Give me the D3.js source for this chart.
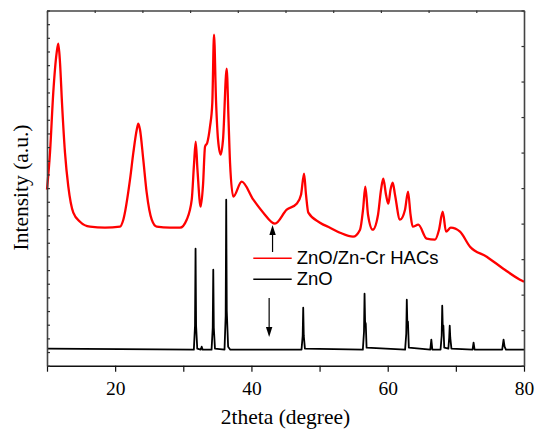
<!DOCTYPE html>
<html>
<head>
<meta charset="utf-8">
<script src="https://cdn.jsdelivr.net/npm/d3@7"></script>
<style>
  body { margin: 0; background: #fff; }
  svg { display: block; }
  .tick text { font-family: "Liberation Serif", "Times New Roman", serif; font-size: 19.5px; fill: #000; }
</style>
</head>
<body>
<svg id="chart"></svg>
<script>
'use strict';

// ZnO/Zn-Cr HACs pattern: [2theta, intensity] (arbitrary units)
const hacs = [
  [10.0, 176], [10.44, 213], [10.92, 273], [11.42, 313], [11.66, 322], [11.91, 303],
  [12.2, 263], [12.64, 213], [13.13, 179], [13.86, 153], [14.84, 144], [16.31, 139],
  [18.51, 138], [20.71, 139], [21.2, 146], [22.18, 186], [22.67, 213], [23.17, 236],
  [23.4, 242], [23.65, 236], [24.13, 206], [24.63, 173], [25.37, 146], [26.1, 139],
  [28.05, 138], [29.52, 138], [30.5, 146], [31.24, 166], [31.57, 201], [31.82, 224],
  [32.08, 196], [32.55, 159], [32.9, 181], [33.19, 219], [33.52, 223], [33.92, 239],
  [34.26, 263], [34.51, 331], [34.8, 266], [35.1, 226], [35.49, 211], [35.83, 226],
  [36.37, 297], [36.64, 246], [36.86, 203], [37.34, 169], [38.57, 184], [40.28, 166],
  [41.74, 153], [43.46, 142], [45.18, 156], [46.64, 162], [47.28, 171], [47.72, 192],
  [48.01, 171], [48.35, 153], [50.06, 143], [51.53, 138], [53.0, 133], [54.91, 129],
  [55.94, 136], [56.38, 156], [56.71, 179], [57.11, 151], [57.8, 136], [58.58, 151],
  [59.02, 176], [59.35, 187], [59.75, 171], [60.09, 162], [60.41, 176], [60.73, 183],
  [61.07, 171], [61.8, 146], [62.54, 156], [62.98, 174], [63.35, 151], [63.67, 139],
  [64.49, 141], [65.72, 127], [66.94, 126], [67.53, 136], [68.07, 154], [68.56, 134],
  [69.25, 138], [70.61, 134], [72.08, 119], [74.53, 109], [76.96, 97], [79.41, 86],
  [80.0, 84]
];

// ZnO pattern
const zno = [
  [10, 17], [31.55, 16], [31.72, 40], [31.8, 117], [31.88, 40], [32.05, 17],
  [32.55, 16], [32.7, 19], [32.85, 16], [34.15, 16], [34.32, 38], [34.4, 96],
  [34.48, 38], [34.65, 17], [36.05, 16], [36.22, 50], [36.3, 166], [36.38, 55],
  [36.58, 19], [36.9, 16], [47.35, 16], [47.52, 30], [47.6, 58], [47.68, 30],
  [47.85, 17], [56.35, 16], [56.52, 34], [56.6, 72], [56.68, 44], [56.78, 42],
  [56.9, 18], [62.55, 16], [62.72, 32], [62.8, 66], [62.88, 42], [62.97, 44],
  [63.1, 18], [66.25, 16], [66.4, 26], [66.55, 16], [67.75, 16], [67.92, 30],
  [68.0, 60], [68.08, 38], [68.17, 40], [68.3, 18], [68.9, 17], [69.02, 28],
  [69.1, 40], [69.18, 28], [69.35, 17], [72.45, 16], [72.6, 23], [72.75, 16],
  [76.8, 16], [77.0, 26], [77.15, 19], [77.35, 16], [80, 16]
];

const xTicks = [10, 20, 30, 40, 50, 60, 70, 80];
const xLabels = [20, 40, 60, 80];

// arrows: [2theta, from, to]
const arrows = [
  [43.1, 113.7, 140.7],
  [42.6, 67.7, 28.7]
];

const seriesNames = ['ZnO/Zn-Cr HACs', 'ZnO'];
const seriesColors = ['#ff0000', '#000000'];

const W = 541, H = 429;
const margin = { top: 10.5, right: 17, bottom: 63.3, left: 47 };
const width = W - margin.left - margin.right;
const height = H - margin.top - margin.bottom;

const svg = d3.select('#chart')
    .attr('width', W)
    .attr('height', H);

const graph = svg.append('g')
    .attr('transform', `translate(${margin.left}, ${margin.top})`);

const x = d3.scaleLinear()
    .domain([10, 80])
    .range([0, width]);

const y = d3.scaleLinear()
    .domain([0, height])
    .range([height, 0]);

// unlabelled minor tick scales for the frame
const yLeft = d3.scaleLinear().domain([0, 26]).range([height, 0]);
const yRight = d3.scaleLinear().domain([0, 10]).range([height, 0]);
const xTop = d3.scaleLinear().domain([0, 10]).range([0, width]);

const smooth = d3.line()
    .x(d => x(d[0]))
    .y(d => y(d[1]))
    .curve(d3.curveMonotoneX);

const line = d3.line()
    .x(d => x(d[0]))
    .y(d => y(d[1]));

graph.append('path')
    .datum(hacs)
    .attr('fill', 'none')
    .attr('stroke', seriesColors[0])
    .attr('stroke-width', 2.3)
    .attr('stroke-linejoin', 'round')
    .attr('d', smooth);

graph.append('path')
    .datum(zno)
    .attr('fill', 'none')
    .attr('stroke', seriesColors[1])
    .attr('stroke-width', 1.8)
    .attr('stroke-linejoin', 'round')
    .attr('d', line);

// axes
graph.append('g')
    .attr('class', 'x-axis')
    .attr('transform', `translate(0, ${height})`)
    .call(d3.axisBottom(x)
      .tickValues(xTicks)
      .tickSize(6)
      .tickSizeOuter(0)
      .tickPadding(9.5)
      .tickFormat(d => xLabels.includes(d) ? d : ''));

graph.append('g')
    .attr('class', 'x-top')
    .call(d3.axisTop(xTop).ticks(10).tickSize(-2.5).tickSizeOuter(0).tickFormat(''));

graph.append('g')
    .attr('class', 'y-axis')
    .call(d3.axisLeft(yLeft).ticks(26).tickSize(-3).tickSizeOuter(0).tickFormat(''));

graph.append('g')
    .attr('class', 'y-right')
    .attr('transform', `translate(${width}, 0)`)
    .call(d3.axisRight(yRight).ticks(10).tickSize(-2.5).tickSizeOuter(0).tickFormat(''));

graph.selectAll('.domain')
    .attr('stroke', '#444')
    .attr('stroke-width', 1.6);
graph.selectAll('.tick line')
    .attr('stroke', '#333')
    .attr('stroke-width', 1.2);
graph.select('.x-axis .domain').attr('stroke', '#111');
graph.selectAll('.x-axis .tick line').attr('stroke', '#111');

// arrows
arrows.forEach(([a, from, to]) => {
  const ax = x(a), y0 = y(from), y1 = y(to);
  const dir = y1 < y0 ? 1 : -1;
  graph.append('line')
      .attr('x1', ax).attr('x2', ax)
      .attr('y1', y0).attr('y2', y1 + dir * 8)
      .attr('stroke', '#000')
      .attr('stroke-width', 1.2);
  graph.append('path')
      .attr('d', `M${ax},${y1} L${ax - 3.2},${y1 + dir * 10} L${ax + 3.2},${y1 + dir * 10} Z`)
      .attr('fill', '#000');
});

// legend
const legend = svg.append('g');
seriesNames.forEach((name, i) => {
  const ly = 258.3 + i * 21;
  legend.append('line')
      .attr('x1', 253.3).attr('x2', 291.7)
      .attr('y1', ly).attr('y2', ly)
      .attr('stroke', seriesColors[i])
      .attr('stroke-width', 1.4);
  legend.append('text')
      .attr('x', 296.7)
      .attr('y', ly + 5.2)
      .style('font-family', '"Liberation Sans", Arial, sans-serif')
      .style('font-size', '18.5px')
      .text(name);
});

// axis titles
svg.append('text')
    .attr('x', margin.left + width / 2)
    .attr('y', 423.5)
    .attr('text-anchor', 'middle')
    .style('font-family', '"Liberation Serif", "Times New Roman", serif')
    .style('font-size', '21.5px')
    .text('2theta (degree)');

svg.append('text')
    .attr('transform', 'translate(27.5, 187.5) rotate(-90)')
    .attr('text-anchor', 'middle')
    .style('font-family', '"Liberation Serif", "Times New Roman", serif')
    .style('font-size', '21.5px')
    .text('Intensity (a.u.)');
</script>
</body>
</html>
